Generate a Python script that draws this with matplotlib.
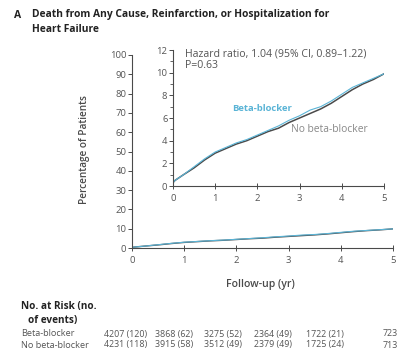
import numpy as np
import matplotlib
matplotlib.use("Agg")
from matplotlib import pyplot as plt
from matplotlib.ticker import MultipleLocator

plt.rcParams['font.family'] = ['Open Sans', 'DejaVu Sans']

# cumulative incidence (%) by follow-up year
years = [0, 0.05, 0.25, 0.5, 0.75, 1.0, 1.25, 1.5, 1.75, 2.0, 2.25, 2.5,
         2.75, 3.0, 3.25, 3.5, 3.75, 4.0, 4.25, 4.5, 4.75, 5.0]
beta = [0.3, 0.5, 1.0, 1.7, 2.4, 3.0, 3.4, 3.8, 4.1, 4.5, 4.9, 5.3,
        5.8, 6.2, 6.7, 7.0, 7.5, 8.1, 8.7, 9.1, 9.5, 9.9]
no_beta = [0.3, 0.5, 1.0, 1.6, 2.3, 2.9, 3.3, 3.7, 4.0, 4.4, 4.8, 5.1,
           5.6, 6.0, 6.4, 6.8, 7.3, 7.9, 8.5, 9.0, 9.4, 9.9]

risk_rows = ["Beta-blocker", "No beta-blocker"]
risk_beta = ["4207 (120)", "3868 (62)", "3275 (52)", "2364 (49)", "1722 (21)", "723"]
risk_no_beta = ["4231 (118)", "3915 (58)", "3512 (49)", "2379 (49)", "1725 (24)", "713"]

teal = "#5ab4d6"
dark = "#4a4a4a"
grey = "#555555"

W, H = 398, 352
fig = plt.figure(figsize=(W / 100, H / 100), dpi=100)


def fx(px):
    return px / W


def fy(py):
    return 1 - py / H


def style(ax, fs=6.8):
    for s in ["top", "right"]:
        ax.spines[s].set_visible(False)
    for s in ["left", "bottom"]:
        ax.spines[s].set_color(dark)
        ax.spines[s].set_linewidth(0.8)
    ax.tick_params(axis="both", labelsize=fs, colors=dark, labelcolor=grey,
                   width=0.7, length=3)
    ax.tick_params(axis="y", direction="out", pad=1)
    ax.tick_params(axis="x", direction="inout", length=4)
    ax.patch.set_alpha(0)


# main panel
ax = fig.add_axes([fx(132), fy(248), fx(393 - 132), fy(55) - fy(248)])
ax.plot(years, no_beta, color=dark, lw=1.0)
ax.plot(years, beta, color=teal, lw=0.8)
ax.set_xlim(0, 5)
ax.set_ylim(0, 100)
ax.set_yticks(range(0, 101, 10))
ax.set_xticks(range(0, 6))
style(ax)

# zoomed inset
ins = fig.add_axes([fx(173), fy(186), fx(384 - 173), fy(50) - fy(186)])
ins.plot(years, no_beta, color=dark, lw=1.1)
ins.plot(years, beta, color=teal, lw=0.8)
ins.set_xlim(0, 5)
ins.set_ylim(0, 12)
ins.set_yticks(range(0, 13, 2))
ins.yaxis.set_minor_locator(MultipleLocator(1))
ins.set_xticks(range(0, 6))
style(ins)
ins.tick_params(axis="y", which="minor", direction="out", length=2, width=0.6,
                colors=dark)

fig.text(fx(185), fy(54), "Hazard ratio, 1.04 (95% CI, 0.89\u20131.22)",
         fontsize=7.6, color=grey, va="center")
fig.text(fx(185), fy(66), "P=0.63", fontsize=7.6, color=grey, va="center")
fig.text(fx(232), fy(108), "Beta-blocker", fontsize=6.8, color=teal,
         fontweight="bold", va="center")
fig.text(fx(291), fy(129), "No beta-blocker", fontsize=7.4, color="#888888",
         va="center")

fig.text(fx(84), fy(150), "Percentage of Patients", fontsize=7.2, color=dark,
         fontweight="semibold", rotation=90, ha="center", va="center")
fig.text(fx(260), fy(284), "Follow-up (yr)", fontsize=7.6, color=dark,
         fontweight="semibold", ha="center", va="center")

# title
fig.text(fx(14), fy(15), "A", fontsize=7.5, fontweight="bold", color="#222222",
         va="center")
fig.text(fx(32), fy(15), "Death from Any Cause, Reinfarction, or Hospitalization for",
         fontsize=7.4, fontweight="bold", color="#222222", va="center")
fig.text(fx(32), fy(30), "Heart Failure", fontsize=7.4, fontweight="bold",
         color="#222222", va="center")

# number at risk table
fig.text(fx(21), fy(306), "No. at Risk (no.", fontsize=7.2, fontweight="bold",
         color="#222222", va="center")
fig.text(fx(28), fy(320), "of events)", fontsize=7.2, fontweight="bold",
         color="#222222", va="center")
col_x = [104, 155, 204, 254, 306, 383]
for row, vals, py in zip(risk_rows, [risk_beta, risk_no_beta], [334, 345]):
    fig.text(fx(21), fy(py), row, fontsize=6.6, color=grey, va="center")
    for cx, v in zip(col_x, vals):
        fig.text(fx(cx), fy(py), v, fontsize=6.4, color=grey, va="center")

fig.savefig("out.png", dpi=100)
